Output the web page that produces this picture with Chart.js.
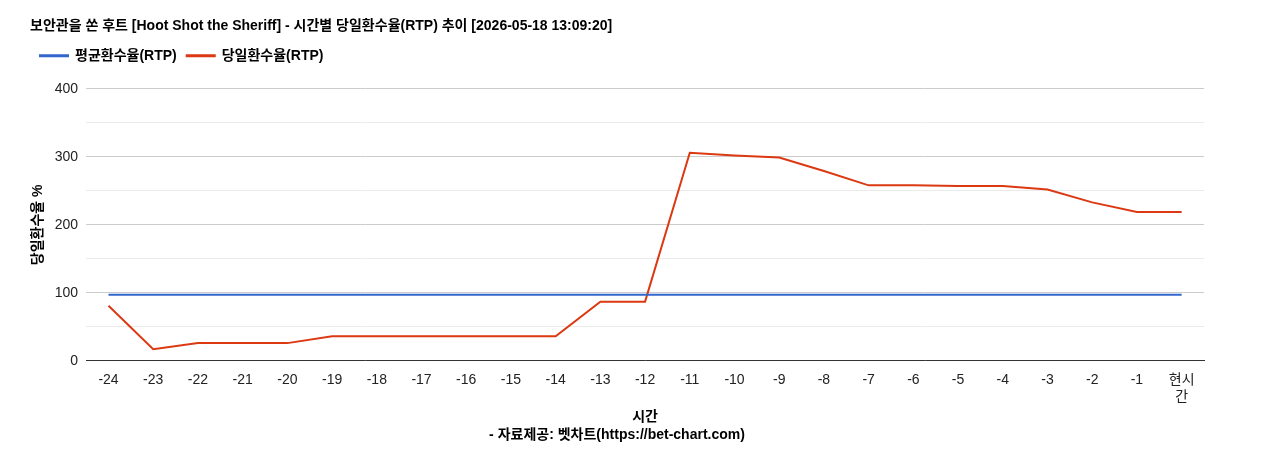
<!DOCTYPE html>
<html>
<head>
<meta charset="utf-8">
<script src="https://cdn.jsdelivr.net/npm/chart.js@4"></script>
<style>
  body { margin: 0; background: #fff; }
  #wrap { width: 1268px; height: 450px; }
</style>
</head>
<body>
<div id="wrap"><canvas id="rtpChart"></canvas></div>
<script>
const hours = ["-24","-23","-22","-21","-20","-19","-18","-17","-16","-15","-14","-13","-12","-11","-10","-9","-8","-7","-6","-5","-4","-3","-2","-1",["현시","간"]];
const avgRtp = [97,97,97,97,97,97,97,97,97,97,97,97,97,97,97,97,97,97,97,97,97,97,97,97,97];
const dailyRtp = [81,17,26,26,26,36,36,36,36,36,36,87,87,306,302,299,279,258,258,257,257,252,233,219,219];

Chart.defaults.font.family = "'Liberation Sans', 'Noto Sans CJK KR', sans-serif";
Chart.defaults.color = "#222";

// extra gap between legend and plot
const legendGap = {
  id: 'legendGap',
  beforeInit(chart) {
    const fit = chart.legend.fit;
    chart.legend.fit = function () { fit.bind(chart.legend)(); this.height += 16; };
  }
};

new Chart(document.getElementById('rtpChart'), {
  type: 'line',
  data: {
    labels: hours,
    datasets: [
      { label: '평균환수율(RTP)', data: avgRtp, borderColor: '#3366cc', backgroundColor: '#3366cc', borderWidth: 2, pointRadius: 0, tension: 0 },
      { label: '당일환수율(RTP)', data: dailyRtp, borderColor: '#dc3912', backgroundColor: '#dc3912', borderWidth: 2, pointRadius: 0, tension: 0 }
    ]
  },
  options: {
    responsive: true,
    maintainAspectRatio: false,
    animation: false,
    layout: { padding: { left: 30, right: 64, top: 12, bottom: 6 } },
    plugins: {
      title: {
        display: true, align: 'start',
        text: '보안관을 쏜 후트 [Hoot Shot the Sheriff] - 시간별 당일환수율(RTP) 추이 [2026-05-18 13:09:20]',
        font: { size: 14, weight: 'bold' }, color: '#000', padding: { top: 6, bottom: 4 }
      },
      subtitle: {
        display: true, position: 'bottom',
        text: '- 자료제공: 벳차트(https://bet-chart.com)',
        font: { size: 14, weight: 'bold' }, color: '#000', padding: { top: 0, bottom: 0 }
      },
      legend: {
        align: 'start',
        labels: { boxWidth: 28, boxHeight: 1, font: { size: 14, weight: 'bold' }, color: '#000', padding: 10 }
      },
      tooltip: { mode: 'index', intersect: false }
    },
    scales: {
      x: {
        offset: true,
        grid: { display: false },
        border: { color: '#333' },
        ticks: { color: '#222', font: { size: 14 }, maxRotation: 0, autoSkip: false },
        title: { display: true, text: '시간', font: { size: 14, weight: 'bold' }, color: '#000', padding: { top: 0, bottom: 2 } }
      },
      y: {
        min: 0, max: 400,
        border: { display: false },
        grid: {
          color: ctx => (ctx.tick && ctx.tick.value % 100 === 0) ? '#cccccc' : '#ebebeb',
          drawTicks: false
        },
        ticks: {
          stepSize: 50, padding: 8, font: { size: 14 }, color: '#222',
          callback: v => v % 100 === 0 ? v : ''
        },
        title: { display: true, text: '당일환수율 %', font: { size: 14, weight: 'bold' }, color: '#000', padding: 0 }
      }
    }
  },
  plugins: [legendGap]
});
</script>
</body>
</html>
